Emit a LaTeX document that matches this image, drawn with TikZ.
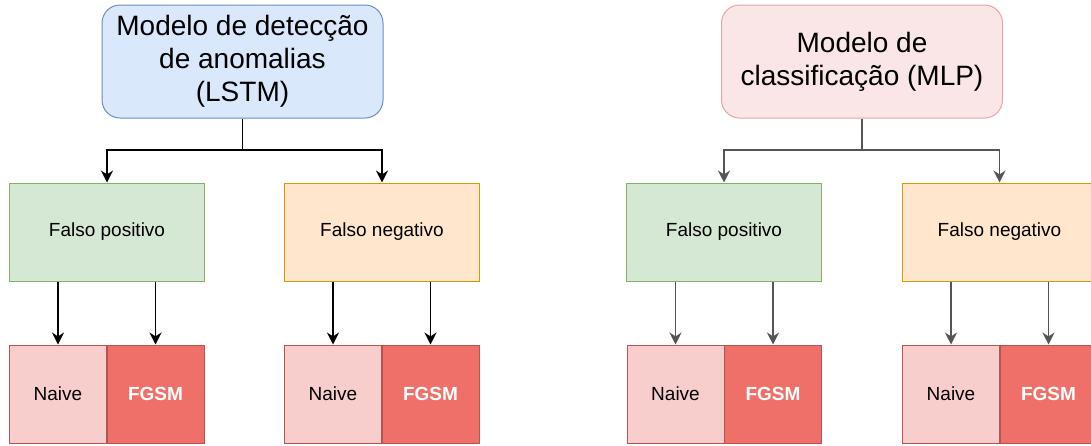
\documentclass[tikz,border=0pt]{standalone}
\usepackage{fontspec}
\setmainfont{Liberation Sans}
\usetikzlibrary{arrows.meta}

\definecolor{lstmfill}{HTML}{DAE8FC}
\definecolor{lstmdraw}{HTML}{6C8EBF}
\definecolor{mlpfill}{HTML}{FAE6E6}
\definecolor{mlpdraw}{HTML}{E3A7A7}
\definecolor{posfill}{HTML}{D5E8D4}
\definecolor{posdraw}{HTML}{82B366}
\definecolor{negfill}{HTML}{FFE6CC}
\definecolor{negdraw}{HTML}{D79B00}
\definecolor{naivefill}{HTML}{F8CECC}
\definecolor{naivedraw}{HTML}{B85450}
\definecolor{fgsmfill}{HTML}{EE7068}
\definecolor{linkgray}{HTML}{555555}

\begin{document}
\begin{tikzpicture}[
            x=1pt, y=-1pt,
            model/.style={
                rectangle,
                rounded corners=18pt,
                draw,
                line width=1pt,
                minimum width=281pt,
                minimum height=113pt,
                align=center,
                inner sep=0pt,
                font=\fontsize{28}{33}\selectfont
            },
            result/.style={
                rectangle,
                draw,
                line width=1pt,
                minimum width=195pt,
                minimum height=98pt,
                inner sep=0pt,
                font=\fontsize{19}{22}\selectfont
            },
            attack/.style={
                rectangle,
                draw=naivedraw,
                line width=1pt,
                minimum width=97pt,
                minimum height=98pt,
                inner sep=0pt,
                font=\fontsize{19}{22}\selectfont
            },
            link/.style={
                line width=1.7pt,
                -{Stealth[length=12pt,width=12pt]}
            }
        ]

            \useasboundingbox (0,0) rectangle (1091,445);
            \clip (0,0) rectangle (1091,445);

            \node[model, fill=lstmfill, draw=lstmdraw] (lstm) at (242.5, 61.5)
                {Modelo de detecção\\de anomalias\\(LSTM)};
            \node[model, fill=mlpfill, draw=mlpdraw] (mlp) at (862, 61.5)
                {Modelo de\\classificação (MLP)};

            \node[result, fill=posfill, draw=posdraw] (lpos) at (107, 232) {Falso positivo};
            \node[result, fill=negfill, draw=negdraw] (lneg) at (382, 232) {Falso negativo};
            \node[result, fill=posfill, draw=posdraw] (rpos) at (724, 232) {Falso positivo};
            \node[result, fill=negfill, draw=negdraw] (rneg) at (999.5, 232) {Falso negativo};

            \node[attack, fill=naivefill] (lposnaive) at (58, 394) {Naive};
            \node[attack, fill=fgsmfill, text=white, font=\fontsize{19}{22}\selectfont\bfseries] (lposfgsm) at (155.5, 394) {FGSM};
            \node[attack, fill=naivefill] (lnegnaive) at (333, 394) {Naive};
            \node[attack, fill=fgsmfill, text=white, font=\fontsize{19}{22}\selectfont\bfseries] (lnegfgsm) at (430.5, 394) {FGSM};
            \node[attack, fill=naivefill] (rposnaive) at (675.5, 394) {Naive};
            \node[attack, fill=fgsmfill, text=white, font=\fontsize{19}{22}\selectfont\bfseries] (rposfgsm) at (773, 394) {FGSM};
            \node[attack, fill=naivefill] (rnegnaive) at (951, 394) {Naive};
            \node[attack, fill=fgsmfill, text=white, font=\fontsize{19}{22}\selectfont\bfseries] (rnegfgsm) at (1048.5, 394) {FGSM};

            \coordinate (lsplit) at (242.5, 150);
            \coordinate (rsplit) at (862, 150);

            \draw[link] (lstm.south) -- (lsplit) -| (lpos.north);
            \draw[link] (lsplit) -| (lneg.north);
            \draw[link, draw=linkgray] (mlp.south) -- (rsplit) -| (rpos.north);
            \draw[link, draw=linkgray] (rsplit) -| (rneg.north);

            \draw[link] (lposnaive |- lpos.south) -- (lposnaive.north);
            \draw[link] (lposfgsm |- lpos.south) -- (lposfgsm.north);
            \draw[link] (lnegnaive |- lneg.south) -- (lnegnaive.north);
            \draw[link] (lnegfgsm |- lneg.south) -- (lnegfgsm.north);
            \draw[link, draw=linkgray] (rposnaive |- rpos.south) -- (rposnaive.north);
            \draw[link, draw=linkgray] (rposfgsm |- rpos.south) -- (rposfgsm.north);
            \draw[link, draw=linkgray] (rnegnaive |- rneg.south) -- (rnegnaive.north);
            \draw[link, draw=linkgray] (rnegfgsm |- rneg.south) -- (rnegfgsm.north);

        \end{tikzpicture}
\end{document}
